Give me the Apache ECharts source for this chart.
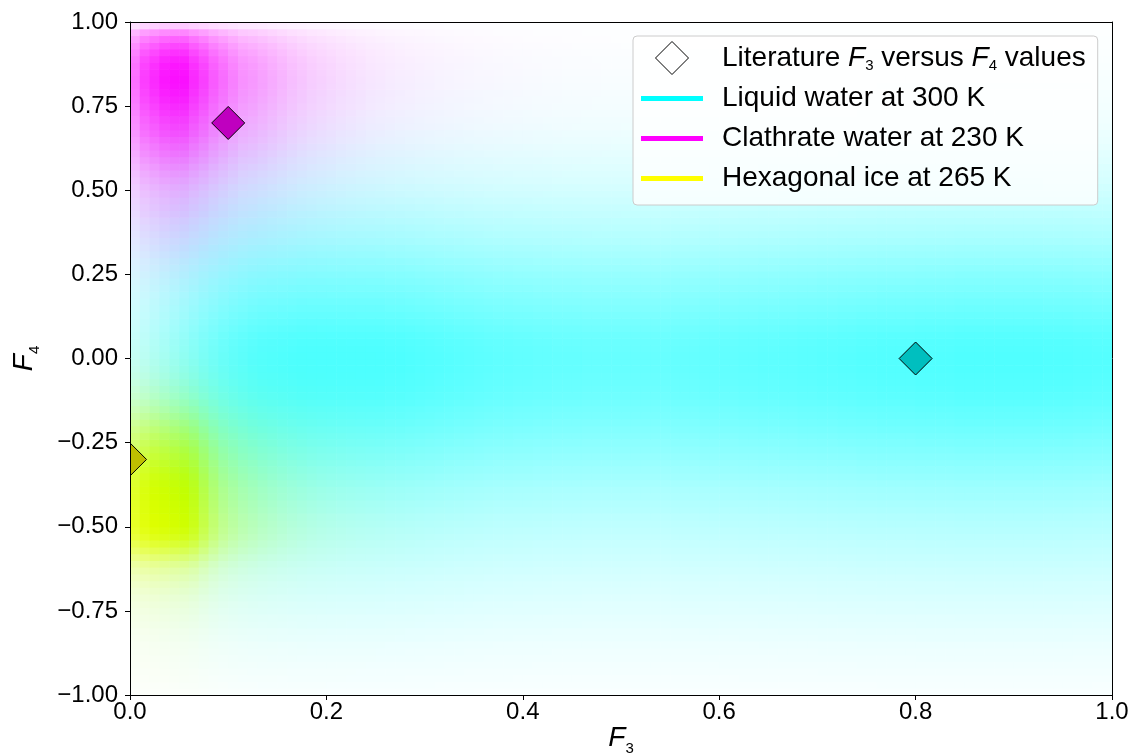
<!DOCTYPE html>
<html>
<head>
<meta charset="utf-8">
<script src="https://cdn.jsdelivr.net/npm/echarts@6/dist/echarts.min.js"></script>
<style>
  html, body { margin: 0; padding: 0; background: #ffffff; overflow: hidden; }
  #chart { width: 1131px; height: 754px; }
</style>
</head>
<body>
<div id="chart"></div>
<script>
const FONT = '"Liberation Sans", Arial, Helvetica, sans-serif';

// Density bins: F3 from 0 to 1 in steps of 0.01, F4 from -1 to 1 in steps of 0.02.
const F3_STEP = 0.01;
const F4_STEP = 0.02;

// Each phase's density is tabulated as its F3 profile and its F4 profile
// (relative to the peak); a cell's weight is the product of the two.
const cyanF3 = [
  0.32,0.38,0.44,0.50,0.56,0.62,0.68,0.74,0.79,0.84,
  0.88,0.91,0.94,0.96,0.97,0.98,0.99,1.00,1.00,1.00,
  1.00,1.00,1.00,1.00,1.00,1.00,0.99,0.99,0.98,0.97,
  0.96,0.95,0.94,0.93,0.92,0.91,0.90,0.89,0.89,0.88,
  0.88,0.87,0.87,0.86,0.86,0.86,0.85,0.85,0.85,0.85,
  0.85,0.85,0.85,0.85,0.85,0.86,0.86,0.86,0.87,0.87,
  0.88,0.88,0.89,0.89,0.90,0.90,0.91,0.91,0.92,0.92,
  0.93,0.93,0.94,0.94,0.95,0.95,0.96,0.96,0.96,0.96,
  0.97,0.97,0.97,0.97,0.98,0.98,0.98,0.98,0.98,0.98,
  0.98,0.98,0.98,0.97,0.97,0.97,0.96,0.96,0.95,0.95];
const cyanF4 = [
  0.04,0.05,0.06,0.07,0.08,0.09,0.10,0.11,0.13,0.14,
  0.16,0.17,0.19,0.20,0.22,0.24,0.25,0.27,0.29,0.31,
  0.33,0.35,0.37,0.39,0.41,0.43,0.45,0.48,0.50,0.53,
  0.55,0.58,0.61,0.64,0.67,0.70,0.73,0.76,0.79,0.82,
  0.85,0.88,0.90,0.93,0.95,0.97,0.98,0.99,1.00,1.00,
  1.00,0.99,0.98,0.96,0.93,0.90,0.87,0.84,0.81,0.78,
  0.75,0.72,0.69,0.65,0.62,0.58,0.55,0.51,0.48,0.45,
  0.42,0.39,0.36,0.33,0.30,0.28,0.25,0.23,0.21,0.19,
  0.17,0.15,0.13,0.12,0.10,0.09,0.08,0.07,0.065,0.06,
  0.05,0.045,0.04,0.035,0.03,0.025,0.02,0.015,0.012,0.01];
const magentaF3 = [
  0.60,0.81,0.89,0.97,1.00,1.00,0.89,0.80,0.69,0.61,
  0.53,0.46,0.43,0.39,0.35,0.31,0.27,0.24,0.21,0.19,
  0.17,0.15,0.135,0.12,0.105,0.095,0.085,0.077,0.07,0.063,
  0.057,0.052,0.047,0.043,0.039,0.035,0.032,0.029,0.026,0.024,
  0.022,0.02,0.018,0.016,0.014,0.013,0.012,0.011,0.01,0.009,
  0.008,0.007,0.006,0.006,0.005,0.005,0.004,0.004,0.003,0.003,
  0.003,0.002,0.002,0.002,0.002,0.001,0.001,0.001,0.001,0.001,
  0,0,0,0,0,0,0,0,0,0,
  0,0,0,0,0,0,0,0,0,0,
  0,0,0,0,0,0,0,0,0,0];
const magentaF4 = [
  0,0,0,0,0,0,0,0,0,0,
  0,0,0,0,0,0,0,0,0,0,
  0,0,0,0,0,0,0,0,0,0,
  0,0,0,0,0,0,0,0,0,0,
  0,0,0.001,0.002,0.002,0.003,0.003,0.004,0.004,0.005,
  0.005,0.006,0.007,0.008,0.01,0.013,0.017,0.022,0.028,0.035,
  0.045,0.055,0.07,0.085,0.10,0.12,0.14,0.16,0.18,0.20,
  0.22,0.25,0.27,0.29,0.32,0.35,0.39,0.43,0.48,0.53,
  0.58,0.63,0.68,0.73,0.77,0.81,0.85,0.89,0.93,0.96,
  0.99,1.00,0.99,0.97,0.93,0.86,0.77,0.66,0.50,0.22];
const yellowF3 = [
  0.85,0.95,1.00,1.00,1.00,1.00,0.90,0.72,0.56,0.44,
  0.37,0.31,0.27,0.23,0.20,0.17,0.145,0.125,0.105,0.09,
  0.078,0.068,0.059,0.051,0.044,0.038,0.033,0.028,0.024,0.02,
  0.017,0.014,0.012,0.01,0.008,0.007,0.006,0.005,0.004,0.003,
  0.003,0.002,0.002,0.001,0.001,0.001,0.001,0.001,0.001,0.001,
  0,0,0,0,0,0,0,0,0,0,
  0,0,0,0,0,0,0,0,0,0,
  0,0,0,0,0,0,0,0,0,0,
  0,0,0,0,0,0,0,0,0,0,
  0,0,0,0,0,0,0,0,0,0];
const yellowF4 = [
  0.02,0.025,0.03,0.035,0.04,0.045,0.05,0.055,0.065,0.075,
  0.09,0.105,0.12,0.14,0.165,0.20,0.24,0.29,0.35,0.43,
  0.55,0.68,0.80,0.90,0.96,1.00,1.00,1.00,1.00,1.00,
  0.99,0.97,0.93,0.89,0.84,0.79,0.74,0.68,0.61,0.54,
  0.47,0.40,0.33,0.27,0.22,0.18,0.14,0.11,0.085,0.065,
  0.05,0.04,0.03,0.023,0.017,0.013,0.01,0.008,0.006,0.005,
  0.004,0.003,0.003,0.002,0.002,0.001,0.001,0.001,0,0,
  0,0,0,0,0,0,0,0,0,0,
  0,0,0,0,0,0,0,0,0,0,
  0,0,0,0,0,0,0,0,0,0];
const C_PEAK = 0.70;   // liquid water
const M_PEAK = 0.94;   // clathrate water
const Y_PEAK = 1.00;   // hexagonal ice

const phaseNames = ['Liquid water at 300 K', 'Clathrate water at 230 K', 'Hexagonal ice at 265 K'];
const phaseColors = ['#00ffff', '#ff00ff', '#ffff00'];

// Literature (F3, F4) values: clathrate, liquid water, hexagonal ice
const litName = 'Literature F3 versus F4 values';
const litF3 = [0.1, 0.8, 0.0];
const litF4 = [0.7, 0.0, -0.3];
const litColors = ['#bf00bf', '#00bfbf', '#bfbf00'];

// Cell table: [F3 start, F4 start, cyan, magenta, yellow]
const cells = [];
for (let i = 0; i < cyanF3.length; i++) {
  for (let j = 0; j < cyanF4.length; j++) {
    cells.push([
      i * F3_STEP,
      -1 + j * F4_STEP,
      C_PEAK * cyanF3[i] * cyanF4[j],
      M_PEAK * magentaF3[i] * magentaF4[j],
      Y_PEAK * yellowF3[i] * yellowF4[j]
    ]);
  }
}

// Each weight removes its complementary primary from white.
function channel(v) {
  return Math.round(255 * (1 - Math.max(0, Math.min(1, v))));
}

const axisNameRich = {
  i: { fontFamily: FONT, fontStyle: 'italic', fontSize: 28, color: '#000' },
  s: { fontFamily: FONT, fontSize: 15, color: '#000', padding: [20, 0, 0, 0] }
};

const chart = echarts.init(document.getElementById('chart'), null, { renderer: 'canvas' });

const option = {
  animation: false,
  backgroundColor: '#ffffff',
  textStyle: { fontFamily: FONT },
  grid: { left: 130, top: 22, width: 982, height: 673, containLabel: false, outerBoundsMode: 'none' },
  xAxis: [
    {
      type: 'value', min: 0, max: 1, interval: 0.2, position: 'bottom', z: 10,
      axisLine: { show: true, onZero: false, lineStyle: { color: '#000', width: 1 } },
      axisTick: { show: true, length: 5, lineStyle: { color: '#000', width: 1 } },
      splitLine: { show: false },
      axisLabel: { color: '#000', fontSize: 24, margin: 5, fontFamily: FONT,
                   formatter: v => v.toFixed(1) },
      name: '{i|F}{s|3}', nameLocation: 'middle', nameGap: 26, nameMoveOverlap: false,
      nameTextStyle: { rich: axisNameRich }
    },
    {
      type: 'value', min: 0, max: 1, position: 'top', z: 10,
      axisLine: { show: true, onZero: false, lineStyle: { color: '#000', width: 1 } },
      axisTick: { show: false }, axisLabel: { show: false }, splitLine: { show: false }
    }
  ],
  yAxis: [
    {
      type: 'value', min: -1, max: 1, interval: 0.25, position: 'left', z: 10,
      axisLine: { show: true, onZero: false, lineStyle: { color: '#000', width: 1 } },
      axisTick: { show: true, length: 5, lineStyle: { color: '#000', width: 1 } },
      splitLine: { show: false },
      axisLabel: { color: '#000', fontSize: 24, margin: 12, fontFamily: FONT,
                   formatter: v => (v < 0 ? '\u2212' : '') + Math.abs(v).toFixed(2) },
      name: '{i|F}{s|4}', nameLocation: 'middle', nameGap: 88, nameRotate: 90,
      nameTextStyle: { rich: axisNameRich }
    },
    {
      type: 'value', min: -1, max: 1, position: 'right', z: 10,
      axisLine: { show: true, onZero: false, lineStyle: { color: '#000', width: 1 } },
      axisTick: { show: false }, axisLabel: { show: false }, splitLine: { show: false }
    }
  ],
  legend: {
    orient: 'vertical',
    left: 633, top: 36,
    padding: [5, 12, 10, 8],
    itemWidth: 62, itemHeight: 33, itemGap: 7,
    backgroundColor: 'rgba(255,255,255,0.8)',
    borderColor: '#cccccc', borderWidth: 1, borderRadius: 4,
    selectedMode: false,
    textStyle: {
      fontFamily: FONT, fontSize: 28, color: '#000', lineHeight: 33,
      rich: {
        g: { width: 14 },
        t: { fontFamily: FONT, fontSize: 28, color: '#000' },
        i: { fontFamily: FONT, fontSize: 28, fontStyle: 'italic', color: '#000' },
        s: { fontFamily: FONT, fontSize: 15, color: '#000', padding: [16, 0, 0, 0] }
      }
    },
    formatter: name => {
      if (name === litName) {
        return '{g| }{t|Literature }{i|F}{s|3}{t| versus }{i|F}{s|4}{t| values}';
      }
      return '{g| }{t|' + name + '}';
    },
    data: [
      { name: litName, icon: 'path://M1,0L2,1L1,2L0,1Z',
        itemStyle: { color: '#ffffff', borderColor: '#000000', borderWidth: 1 } },
      ...phaseNames.map((n, k) => ({
        name: n, icon: 'path://M0,0H62V5H0Z',
        itemStyle: { color: phaseColors[k], borderWidth: 0 }
      }))
    ]
  },
  series: [
    {
      type: 'custom',
      name: 'density',
      data: cells,
      clip: true,
      silent: true,
      progressive: 0,
      z: 1,
      renderItem: (params, api) => {
        const x0 = api.value(0), y0 = api.value(1);
        const p0 = api.coord([x0, y0 + F4_STEP]);
        const p1 = api.coord([x0 + F3_STEP, y0]);
        const fill = 'rgb(' + channel(api.value(2)) + ',' + channel(api.value(3)) + ',' + channel(api.value(4)) + ')';
        return {
          type: 'rect',
          shape: { x: p0[0], y: p0[1], width: p1[0] - p0[0] + 0.6, height: p1[1] - p0[1] + 0.6 },
          style: { fill: fill }
        };
      }
    },
    {
      type: 'custom',
      name: litName,
      data: litF3.map((x, k) => [x, litF4[k], k]),
      clip: true,
      silent: true,
      z: 5,
      renderItem: (params, api) => {
        const c = api.coord([api.value(0), api.value(1)]);
        const h = 16.5;
        return {
          type: 'polygon',
          shape: { points: [[c[0], c[1] - h], [c[0] + h, c[1]], [c[0], c[1] + h], [c[0] - h, c[1]]] },
          style: { fill: litColors[api.value(2)], stroke: '#000', lineWidth: 1 }
        };
      }
    },
    ...phaseNames.map((n, k) => ({
      type: 'line', name: n, data: [], symbol: 'none',
      itemStyle: { color: phaseColors[k] },
      lineStyle: { color: phaseColors[k], width: 5 }
    }))
  ]
};

chart.setOption(option);
</script>
</body>
</html>
